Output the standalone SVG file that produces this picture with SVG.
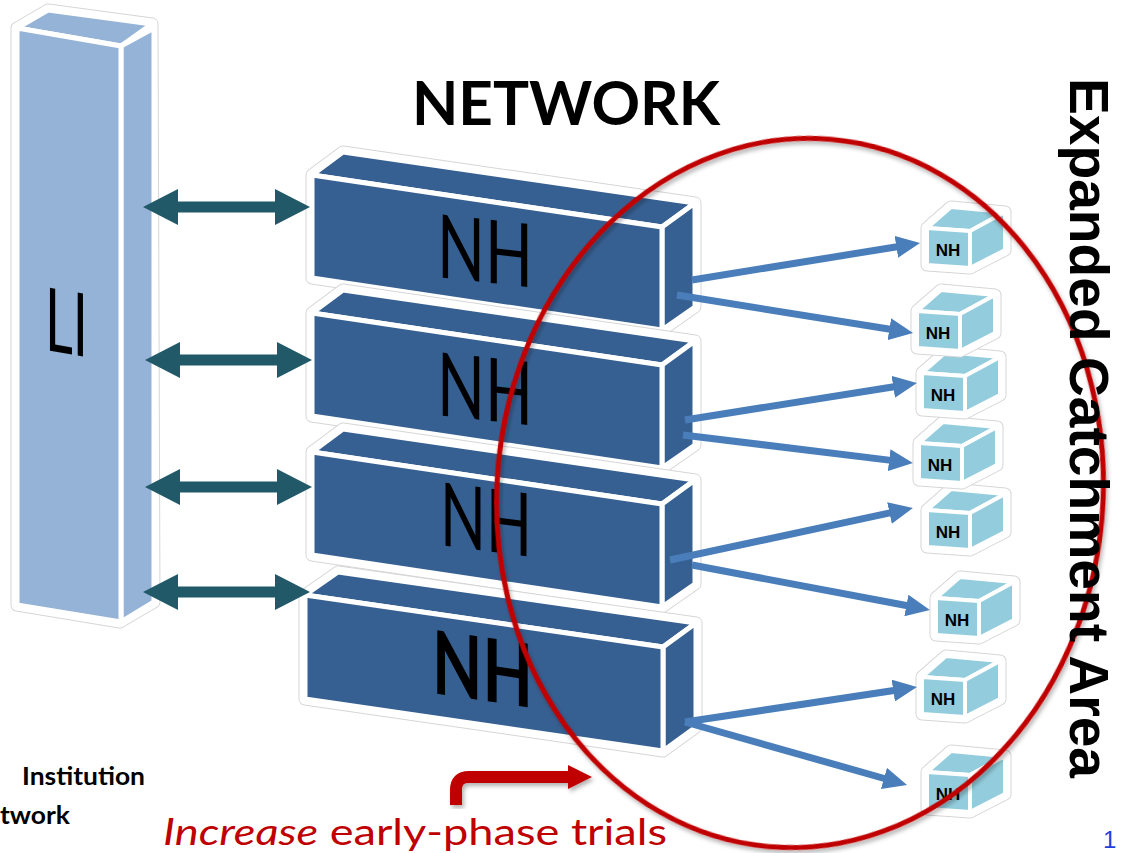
<svg xmlns="http://www.w3.org/2000/svg" width="1124" height="853" viewBox="0 0 1124 853">
<style>
.halo{fill:none;stroke:#d6d6d6;stroke-width:13;stroke-linejoin:round}
.halo2{fill:#fff;stroke:#fff;stroke-width:11;stroke-linejoin:round}
.li{fill:#95B3D7;stroke:#fff;stroke-width:5;stroke-linejoin:round}
.nh{fill:#376092;stroke:#fff;stroke-width:5;stroke-linejoin:round}
.cb{fill:#93CDDD;stroke:#fff;stroke-width:4;stroke-linejoin:round}
.big{font-family:Lato,"Open Sans",sans-serif;font-size:88px;fill:#000}
.cubet{font-family:"Liberation Sans",Arial,sans-serif;font-weight:bold;font-size:17px;fill:#000;text-anchor:middle}
.teal{fill:#215968}
.blue{stroke:#4A7EBB;stroke-width:7;fill:none}
</style>
<defs>
<path id="dbl" d="M0,0 L35,-18 L35,-5.5 L132,-5.5 L132,-18 L167,0 L132,18 L132,5.5 L35,5.5 L35,18 Z"/>
<marker id="bh" viewBox="0 0 24 22" refX="4" refY="11" markerWidth="24" markerHeight="22" markerUnits="userSpaceOnUse" orient="auto">
<path d="M0,0 L24,11 L0,22 Z" fill="#4A7EBB"/>
</marker>
<g id="cube">
<polygon class="halo" points="0,0 24,-21 78,-16 78,22 43,40 0,37"/>
<polygon class="halo2" points="0,0 24,-21 78,-16 78,22 43,40 0,37"/>
<polygon class="cb" points="0,0 24,-21 78,-16 43,3"/>
<polygon class="cb" points="43,3 78,-16 78,22 43,40"/>
<polygon class="cb" points="0,0 43,3 43,40 0,37"/>
<text class="cubet" x="21" y="28">NH</text>
</g>
<g id="nhbox">
<polygon class="halo" points="312,175 343,152 695,203 695,307 662,330 312,278"/>
<polygon class="halo2" points="312,175 343,152 695,203 695,307 662,330 312,278"/>
<polygon class="nh" points="312,175 343,152 695,203 662,227"/>
<polygon class="nh" points="662,227 695,203 695,307 662,330"/>
<polygon class="nh" points="312,175 662,227 662,330 312,278"/>
</g>
<filter id="sh" x="-10%" y="-10%" width="120%" height="120%">
<feDropShadow dx="2" dy="3" stdDeviation="2" flood-color="#000" flood-opacity="0.3"/>
</filter>
</defs>

<g id="li">
<polygon class="halo" points="17,28 48,10 152,24 154,602 120,622 17,605"/>
<polygon class="halo2" points="17,28 48,10 152,24 154,602 120,622 17,605"/>
<polygon class="li" points="17,28 48,10 152,24 121,46"/>
<polygon class="li" points="121,46 154,28 154,602 121,622"/>
<polygon class="li" points="17,28 121,46 121,622 17,605"/>
<text class="big" transform="matrix(1,0.17,0,1,45,350)" textLength="43" lengthAdjust="spacingAndGlyphs">LI</text>
</g>

<g id="nh1">
<use href="#nhbox"/>
<text class="big" transform="matrix(1,0.11,0,1,437,277)" textLength="96" lengthAdjust="spacingAndGlyphs">NH</text>
</g>
<g id="nh2">
<use href="#nhbox" transform="translate(0,138)"/>
<text class="big" transform="matrix(1,0.11,0,1,437,415)" textLength="96" lengthAdjust="spacingAndGlyphs">NH</text>
</g>
<g id="nh3">
<use href="#nhbox" transform="translate(0,277)"/>
<text class="big" transform="matrix(1,0.13,0,1,440,545)" textLength="92" lengthAdjust="spacingAndGlyphs">NH</text>
</g>
<g id="nh4">
<polygon class="halo" points="305,595 338,572 696,623 696,727 663,751 305,699"/>
<polygon class="halo2" points="305,595 338,572 696,623 696,727 663,751 305,699"/>
<polygon class="nh" points="305,595 338,572 696,623 663,647"/>
<polygon class="nh" points="663,647 696,623 696,727 663,751"/>
<polygon class="nh" points="305,595 663,647 663,751 305,699"/>
<text class="big" font-weight="bold" font-size="82" transform="matrix(1,0.15,0,1,432,693)" textLength="101" lengthAdjust="spacingAndGlyphs">NH</text>
</g>

<g id="cubes">
<use href="#cube" x="927" y="772"/>
<use href="#cube" x="922" y="677"/>
<use href="#cube" x="936" y="598"/>
<use href="#cube" x="927" y="510"/>
<use href="#cube" x="919" y="443"/>
<use href="#cube" x="922" y="373"/>
<use href="#cube" x="917" y="311"/>
<use href="#cube" x="927" y="228"/>
</g>

<g id="connectors">
<g class="teal">
<use href="#dbl" x="143" y="207"/>
<use href="#dbl" x="145" y="360"/>
<use href="#dbl" x="145" y="487"/>
<use href="#dbl" x="143" y="592"/>
</g>
<g class="blue" marker-end="url(#bh)">
<line x1="692" y1="280" x2="900.3" y2="246.2"/>
<line x1="677" y1="295" x2="893.3" y2="329.8"/>
<line x1="685" y1="420" x2="897.2" y2="386.2"/>
<line x1="683" y1="435" x2="893.1" y2="460.6"/>
<line x1="670" y1="560" x2="893.4" y2="512.2"/>
<line x1="692" y1="565" x2="910.3" y2="606.3"/>
<line x1="685" y1="722" x2="897.2" y2="690.0"/>
<line x1="685" y1="722" x2="887.8" y2="779.5"/>
</g>
<g filter="url(#sh)">
<path d="M456,805 L456,790 Q456,777 469,777 L570,777" fill="none" stroke="#C00000" stroke-width="12"/>
<polygon points="568,765 592,777 568,789" fill="#C00000"/>
</g>
</g>

<text x="566" y="125" font-family="Lato,'Open Sans',sans-serif" font-weight="bold" font-size="62" text-anchor="middle" textLength="308" lengthAdjust="spacingAndGlyphs">NETWORK</text>

<text x="22" y="785" font-family="Lato,'Open Sans',sans-serif" font-weight="bold" font-size="25" textLength="123" lengthAdjust="spacingAndGlyphs">Institution</text>
<text x="0" y="824" font-family="Lato,'Open Sans',sans-serif" font-weight="bold" font-size="25" textLength="70" lengthAdjust="spacingAndGlyphs">twork</text>

<text x="163" y="845" font-family="Lato,'Open Sans',sans-serif" font-size="37" fill="#C00000" textLength="504" lengthAdjust="spacingAndGlyphs"><tspan font-style="italic">Increase</tspan> early-phase trials</text>

<text x="1103" y="848" font-family="'Liberation Sans',Arial,sans-serif" font-size="24" fill="#1F3FE0">1</text>

<ellipse cx="800" cy="493" rx="303" ry="355" transform="rotate(5 800 493)" fill="none" stroke="#C00000" stroke-width="5" filter="url(#sh)"/>

<text transform="translate(1070,78) rotate(90)" font-family="'Liberation Sans',Arial,sans-serif" font-weight="bold" font-size="55" textLength="700" lengthAdjust="spacingAndGlyphs">Expanded Catchment Area</text>
</svg>
